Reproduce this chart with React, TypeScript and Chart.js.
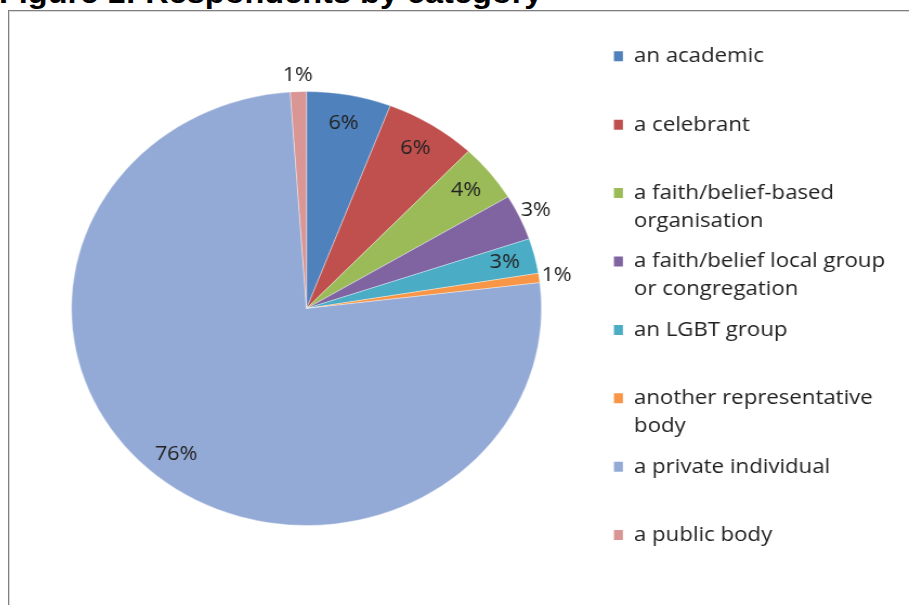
import React, { useEffect, useRef } from "react";
import { Chart, registerables } from "chart.js";

Chart.register(...registerables);

// ---- data ----
const title = "Figure 1: Respondents by category";
const categories = [
  "an academic",
  "a celebrant",
  "a faith/belief-based\norganisation",
  "a faith/belief local group\nor congregation",
  "an LGBT group",
  "another representative\nbody",
  "a private individual",
  "a public body",
];
const values = [5.8, 6.3, 4.3, 3.4, 2.6, 0.7, 75.8, 1.1];
const colors = [
  "#4F81BD",
  "#C0504D",
  "#9BBB59",
  "#8064A2",
  "#4BACC6",
  "#F79646",
  "#94AAD6",
  "#D99694",
];
// label placement: inside (false) or just outside (true) the slice
const labelOutside = [false, false, false, true, false, true, false, true];

const FONT = '"Open Sans", "Noto Sans", sans-serif';
const TEXT = "#222222";
const SX = 1.083; // horizontal stretch of the original picture
const CW = 831;
const CH = 594;
const FS = 20.5; // legend font size
const BOX_W = 8.3;
const BOX_H = 10;
const PAD = 12.4;
const TEXT_X = (634 - 9) / SX;
const LEGEND_LEFT = TEXT_X - BOX_W - FS / 2 - PAD;

const pctLabels = {
  id: "pctLabels",
  afterDatasetsDraw(chart: any) {
    const meta = chart.getDatasetMeta(0);
    const data: number[] = chart.data.datasets[0].data;
    const total = data.reduce((a, b) => a + b, 0);
    const ctx = chart.ctx;
    ctx.save();
    ctx.font = `20px ${FONT}`;
    ctx.fillStyle = TEXT;
    ctx.textAlign = "center";
    ctx.textBaseline = "middle";
    meta.data.forEach((arc: any, i: number) => {
      const { x, y, startAngle, endAngle, outerRadius } = arc.getProps(
        ["x", "y", "startAngle", "endAngle", "outerRadius"],
        true
      );
      const mid = (startAngle + endAngle) / 2;
      const r = outerRadius * (labelOutside[i] ? 1.075 : 0.87);
      ctx.fillText(
        Math.round((data[i] / total) * 100) + "%",
        x + Math.cos(mid) * r,
        y + Math.sin(mid) * r
      );
    });
    ctx.restore();
  },
};

function legendText(i: number): string | string[] {
  const lines = categories[i].split("\n");
  if (i === categories.length - 1 && lines.length === 1) return lines[0];
  while (lines.length < 2) lines.push("");
  return lines;
}

export default function App() {
  const ref = useRef<HTMLCanvasElement | null>(null);

  useEffect(() => {
    if (!ref.current) return;
    // measure the legend's natural width the same way Chart.js does
    const m = document.createElement("canvas").getContext("2d")!;
    m.font = `${FS}px ${FONT}`;
    let maxItem = 0;
    categories.forEach((_, i) => {
      const t = legendText(i);
      const s = typeof t === "string" ? t : t.reduce((a, b) => (a.length > b.length ? a : b));
      maxItem = Math.max(maxItem, BOX_W + FS / 2 + m.measureText(s).width);
    });
    const legendW = PAD + maxItem + 10;
    const padRight = Math.max(0, CW - legendW - LEGEND_LEFT);
    const padLeft = 2 * 274.7 - LEGEND_LEFT;
    const padTop = 45.3 - FS / 2 - PAD;
    const padBottom = padTop - 1;

    const chart = new Chart(ref.current, {
      type: "pie",
      data: {
        labels: categories,
        datasets: [
          {
            data: values,
            backgroundColor: colors,
            borderColor: "rgba(255,255,255,0.35)",
            borderWidth: 1,
            radius: 217,
          } as any,
        ],
      },
      options: {
        responsive: false,
        animation: false,
        devicePixelRatio: 1,
        layout: { padding: { left: padLeft, right: padRight, top: padTop, bottom: padBottom } },
        plugins: {
          tooltip: { enabled: false },
          legend: {
            position: "right",
            align: "start",
            labels: {
              boxWidth: BOX_W,
              boxHeight: BOX_H,
              padding: PAD,
              color: TEXT,
              font: { family: FONT, size: FS, lineHeight: 28 / FS },
              generateLabels: (c: any) =>
                c.data.labels.map((_: string, i: number) => ({
                  text: legendText(i),
                  fillStyle: colors[i],
                  strokeStyle: colors[i],
                  lineWidth: 0,
                  hidden: false,
                  index: i,
                  fontColor: TEXT,
                })),
            },
          },
        },
      } as any,
      plugins: [pctLabels],
    });
    return () => chart.destroy();
  }, []);

  return (
    <div
      style={{
        position: "absolute",
        left: 0,
        top: 0,
        width: 909,
        height: 605,
        overflow: "hidden",
        background: "#fff",
      }}
    >
      <div
        style={{
          position: "absolute",
          left: -1,
          top: -22.4,
          font: "bold 30px Arial, 'Liberation Sans', sans-serif",
          lineHeight: "30px",
          whiteSpace: "nowrap",
          color: "#000",
          transform: `scaleX(${SX})`,
          transformOrigin: "0 0",
        }}
      >
        {title}
      </div>
      <div
        style={{
          position: "absolute",
          left: 8,
          top: 10,
          width: 960,
          height: 660,
          borderLeft: "1px solid #808080",
          borderTop: "1px solid #808080",
          boxShadow: "inset 1px 1px 0 #d9d9d9",
        }}
      />
      <div
        style={{
          position: "absolute",
          left: 9,
          top: 11,
          transform: `scaleX(${SX})`,
          transformOrigin: "0 0",
        }}
      >
        <canvas ref={ref} width={CW} height={CH} style={{ display: "block" }} />
      </div>
    </div>
  );
}
